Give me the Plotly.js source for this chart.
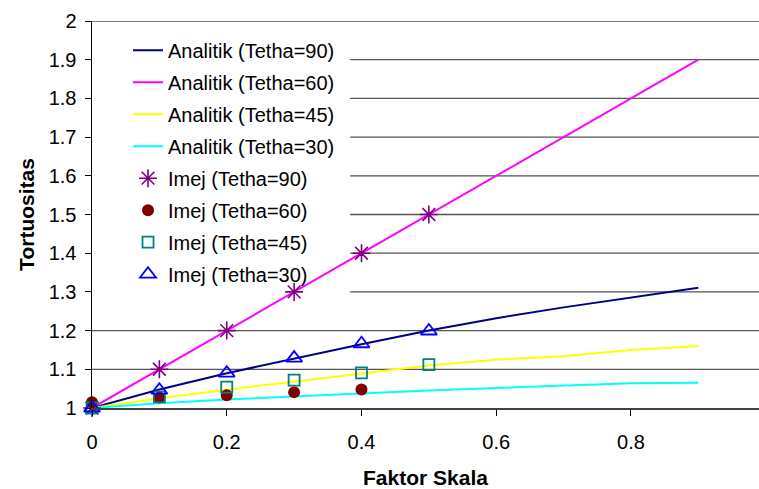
<!DOCTYPE html>
<html>
<head>
<meta charset="utf-8">
<script src="https://cdn.plot.ly/plotly-3.0.1.min.js"></script>
<style>html,body{margin:0;padding:0;background:#fff;}#chart{width:759px;height:489px;}</style>
</head>
<body>
<div id="chart"></div>
<script>
// Analytical curves (Faktor Skala 0..0.9)
const xAnalitik = [0, 0.1, 0.2, 0.3, 0.4, 0.5, 0.6, 0.7, 0.8, 0.9];
const analitik90 = [1.0, 1.048, 1.09, 1.128, 1.165, 1.2, 1.232, 1.26, 1.286, 1.311];
const analitik60 = [1.0, 1.1, 1.2, 1.3, 1.4, 1.5, 1.6, 1.7, 1.8, 1.9];
const analitik45 = [1.0, 1.025, 1.047, 1.068, 1.09, 1.11, 1.125, 1.134, 1.15, 1.16];
const analitik30 = [1.0, 1.012, 1.022, 1.03, 1.037, 1.045, 1.052, 1.058, 1.064, 1.065];

// Image-based measurements
const xImej90 = [0, 0.1, 0.2, 0.3, 0.4, 0.5];
const imej90 = [1.0, 1.1, 1.2, 1.3, 1.4, 1.5];
const xImej60 = [0, 0.1, 0.2, 0.3, 0.4];
const imej60 = [1.015, 1.027, 1.033, 1.041, 1.048];
const xImej45 = [0, 0.1, 0.2, 0.3, 0.4, 0.5];
const imej45 = [1.0, 1.029, 1.054, 1.072, 1.091, 1.112];
const xImej30 = [0, 0.1, 0.2, 0.3, 0.4, 0.5];
const imej30 = [1.0, 1.046, 1.09, 1.129, 1.166, 1.199];

const xTicks = [0, 0.2, 0.4, 0.6, 0.8];
const xTickLabels = ["0", "0.2", "0.4", "0.6", "0.8"];
const yTicks = [1, 1.1, 1.2, 1.3, 1.4, 1.5, 1.6, 1.7, 1.8, 1.9, 2];
const yTickLabels = ["1", "1.1", "1.2", "1.3", "1.4", "1.5", "1.6", "1.7", "1.8", "1.9", "2"];

const lineNames = ["Analitik (Tetha=90)", "Analitik (Tetha=60)", "Analitik (Tetha=45)", "Analitik (Tetha=30)"];
const lineColors = ["#000080", "#FF00FF", "#FFFF00", "#00FFFF"];
const lineData = [analitik90, analitik60, analitik45, analitik30];

const FONT = "Liberation Sans, Arial, sans-serif";

const traces = [];
lineData.forEach((ys, i) => {
  traces.push({
    type: "scatter", mode: "lines", x: xAnalitik, y: ys, name: lineNames[i],
    legendgroup: "g" + i, line: {color: lineColors[i], width: 2}, cliponaxis: false
  });
});
traces.push({type: "scatter", mode: "markers", x: xImej90, y: imej90, name: "Imej (Tetha=90)", legendgroup: "g4",
  marker: {symbol: "asterisk-open", size: 15, color: "#800080", line: {color: "#800080", width: 1.6}}, cliponaxis: false});
traces.push({type: "scatter", mode: "markers", x: xImej60, y: imej60, name: "Imej (Tetha=60)", legendgroup: "g5",
  marker: {symbol: "circle", size: 12, color: "#800000"}, cliponaxis: false});
traces.push({type: "scatter", mode: "markers", x: xImej45, y: imej45, name: "Imej (Tetha=45)", legendgroup: "g6",
  marker: {symbol: "square-open", size: 11, color: "#008080", line: {color: "#008080", width: 1.8}}, cliponaxis: false});
traces.push({type: "scatter", mode: "markers", x: xImej30, y: imej30, name: "Imej (Tetha=30)", legendgroup: "g7",
  marker: {symbol: "triangle-up-open", size: 14, color: "#0000FF", line: {color: "#0000FF", width: 1.8}}, cliponaxis: false});

// Horizontal gridlines: hidden behind the legend box on the rows it covers
const legendRight = 0.387;   // x-domain fraction where the legend box ends
const gridShapes = yTicks.filter(v => v > 1).map(v => ({
  type: "line", xref: "x domain", yref: "y", layer: "below",
  x0: (v >= 1.25 && v <= 1.95) ? legendRight : 0, x1: 1, y0: v, y1: v,
  line: {color: "#555555", width: 1.3}
}));

const layout = {
  width: 759, height: 489,
  margin: {l: 92, r: 0, t: 21, b: 81},
  paper_bgcolor: "#ffffff", plot_bgcolor: "#ffffff",
  font: {family: FONT, size: 20, color: "#000"},
  showlegend: true,
  legend: {
    x: 0.054, y: 0.975, xanchor: "left", yanchor: "top",
    bgcolor: "rgba(0,0,0,0)", borderwidth: 0, tracegroupgap: 3,
    font: {family: FONT, size: 20, color: "#000"}
  },
  shapes: gridShapes,
  xaxis: {
    range: [0, 0.99], tickmode: "array", tickvals: xTicks, ticktext: xTickLabels,
    showgrid: false, zeroline: false, showline: true, linecolor: "#404040", linewidth: 2,
    ticks: "outside", ticklen: 6, tickcolor: "#000", tickwidth: 1, ticklabelstandoff: 9,
    tickfont: {size: 20},
    title: {text: "<b>Faktor Skala</b>", font: {size: 21}, standoff: 20}
  },
  yaxis: {
    range: [1, 2], tickmode: "array", tickvals: yTicks, ticktext: yTickLabels,
    showgrid: false,
    zeroline: false, showline: true, linecolor: "#000", linewidth: 1.5,
    ticks: "outside", ticklen: 6, tickcolor: "#000", ticklabelstandoff: 4,
    tickfont: {size: 20},
    title: {text: "<b>Tortuositas</b>", font: {size: 21}, standoff: 8}
  }
};

Plotly.newPlot("chart", traces, layout, {displayModeBar: false, staticPlot: true});
</script>
</body>
</html>
